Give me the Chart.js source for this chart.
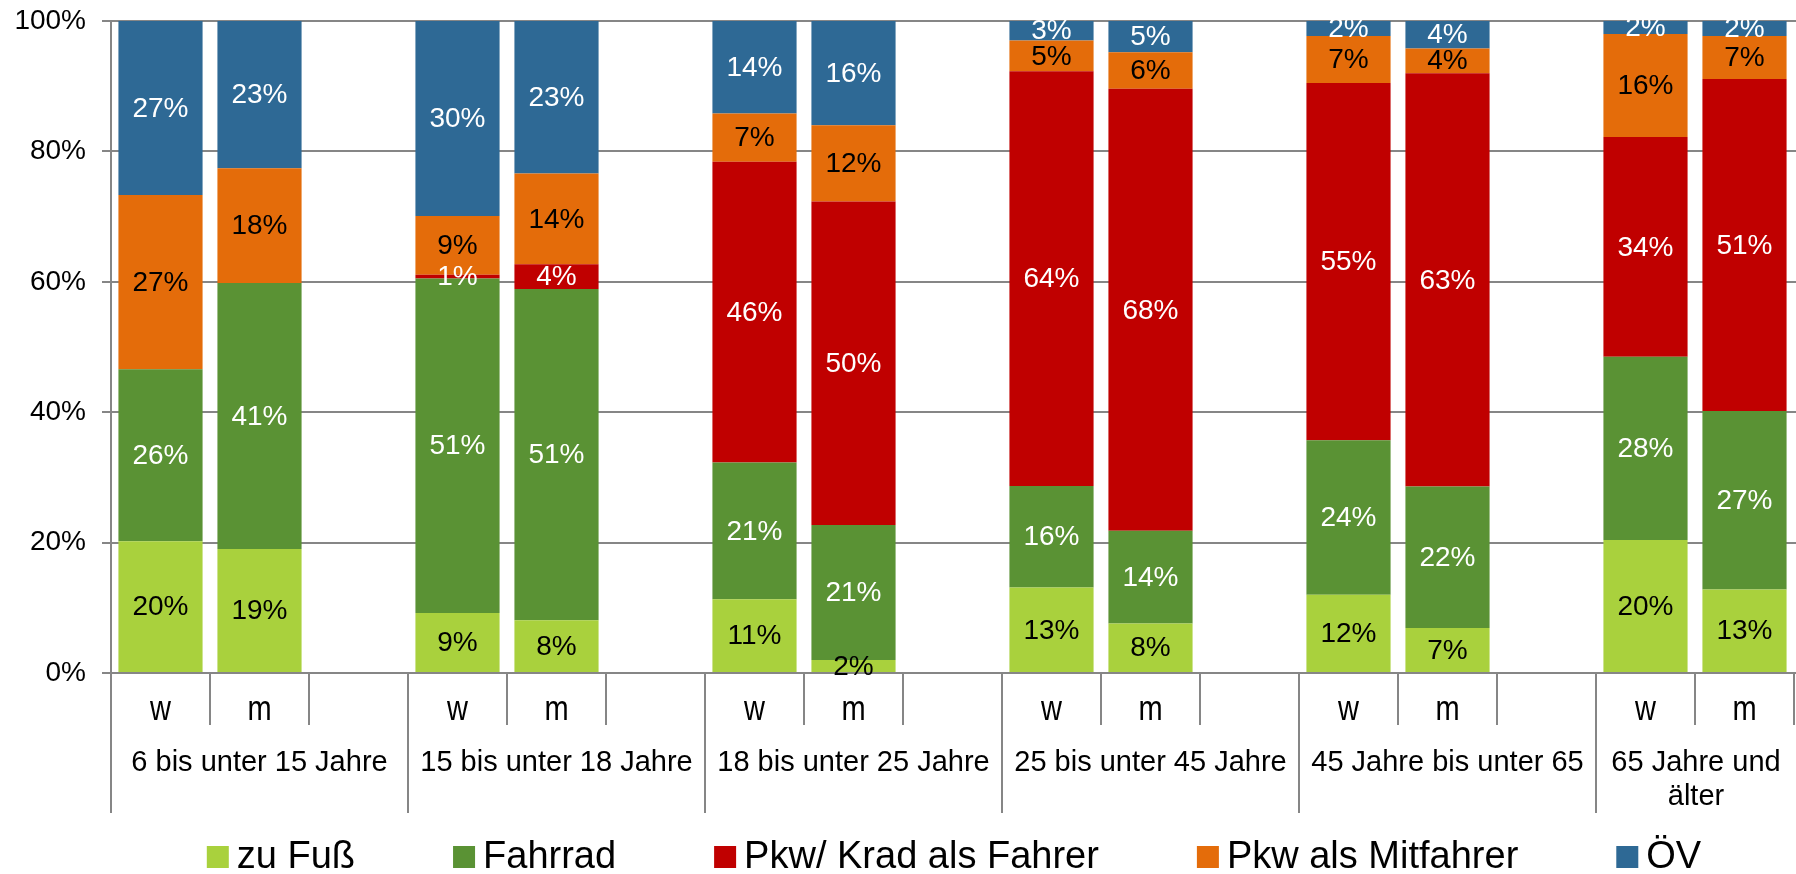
<!DOCTYPE html>
<html>
<head>
<meta charset="utf-8">
<script src="https://cdn.jsdelivr.net/npm/chart.js@4/dist/chart.umd.min.js"></script>
<style>
  html, body { margin: 0; padding: 0; background: #fff; overflow: hidden; }
  canvas { display: block; }
</style>
</head>
<body>
<canvas id="modalChart" width="1908" height="874"></canvas>
<script>
// Kategorien: je Altersgruppe w, m und eine leere Lücke
const genders = ["w", "m", "", "w", "m", "", "w", "m", "", "w", "m", "", "w", "m", "", "w", "m", ""];
const groupLabels = [
  "6 bis unter 15 Jahre",
  "15 bis unter 18 Jahre",
  "18 bis unter 25 Jahre",
  "25 bis unter 45 Jahre",
  "45 Jahre bis unter 65",
  ["65 Jahre und", "älter"],
];

// Anteile in %
const zuFuss    = [20.2, 19.0, null, 9.2, 8.1, null, 11.3, 2.0, null, 13.1, 7.6, null, 12.0, 6.9, null, 20.4, 12.8, null];
const fahrrad   = [26.4, 40.8, null, 51.3, 50.8, null, 21.0, 20.7, null, 15.6, 14.2, null, 23.7, 21.7, null, 28.1, 27.4, null];
const pkwFahrer = [0, 0, null, 0.6, 3.8, null, 46.1, 49.6, null, 63.6, 67.8, null, 54.8, 63.4, null, 33.7, 50.9, null];
const mitfahrer = [26.7, 17.6, null, 9.0, 13.9, null, 7.4, 11.7, null, 4.7, 5.6, null, 7.2, 3.8, null, 15.8, 6.6, null];
const oev       = [26.7, 22.6, null, 29.9, 23.4, null, 14.2, 16.0, null, 3.0, 4.8, null, 2.3, 4.2, null, 2.0, 2.3, null];

const yTicks = [0, 20, 40, 60, 80, 100];

const FONT = '"Liberation Sans", Arial, sans-serif';
const gridColor = "#868686";

// Beschriftungen in den Balken
const barLabels = {
  id: "barLabels",
  afterDatasetsDraw(chart) {
    const ctx = chart.ctx;
    ctx.save();
    ctx.font = "28px " + FONT;
    ctx.textAlign = "center";
    ctx.textBaseline = "middle";
    chart.data.datasets.forEach((ds, di) => {
      const meta = chart.getDatasetMeta(di);
      meta.data.forEach((bar, i) => {
        const v = ds.data[i];
        if (!v) return;
        ctx.fillStyle = ds.labelColor;
        ctx.fillText(Math.round(v) + "%", bar.x, (bar.y + bar.base) / 2 + 1);
      });
    });
    ctx.restore();
  },
};

// x-Achse mit zwei Ebenen und eigene Legende
const axisAndLegend = {
  id: "axisAndLegend",
  afterDraw(chart) {
    const ctx = chart.ctx;
    const x = chart.scales.x;
    const bottom = chart.chartArea.bottom;
    const visibleRight = window.innerWidth;
    ctx.save();

    // Trennlinien
    ctx.strokeStyle = gridColor;
    ctx.lineWidth = 2;
    for (let i = 0; i <= genders.length; i++) {
      const px = Math.round(x.getPixelForValue(i - 0.5));
      const len = i % 3 === 0 ? 140 : 52;
      ctx.beginPath();
      ctx.moveTo(px, bottom);
      ctx.lineTo(px, bottom + len);
      ctx.stroke();
    }

    // w / m
    ctx.fillStyle = "#000";
    ctx.textAlign = "center";
    ctx.textBaseline = "middle";
    ctx.font = "29px " + FONT;
    genders.forEach((g, i) => {
      if (!g) return;
      ctx.save();
      ctx.translate(x.getPixelForValue(i), bottom + 37);
      ctx.scale(1, 1.2);
      ctx.fillText(g, 0, 0);
      ctx.restore();
    });

    // Altersgruppen
    ctx.font = "29px " + FONT;
    groupLabels.forEach((label, g) => {
      const left = x.getPixelForValue(g * 3 - 0.5);
      const right = Math.min(x.getPixelForValue(g * 3 + 2.5), visibleRight);
      const cx = (left + right) / 2;
      const lines = Array.isArray(label) ? label : [label];
      lines.forEach((line, k) => {
        ctx.fillText(line, cx, bottom + 90 + k * 34);
      });
    });

    // Legende
    ctx.font = "38px " + FONT;
    ctx.textAlign = "left";
    const box = 22, gapText = 8, gapItem = 98;
    const items = chart.data.datasets.map((ds) => ({
      text: ds.label,
      color: ds.backgroundColor,
      w: box + gapText + ctx.measureText(ds.label).width,
    }));
    const total = items.reduce((s, it) => s + it.w, 0) + gapItem * (items.length - 1);
    let lx = chart.width / 2 - total / 2;
    const ly = 857;
    items.forEach((it) => {
      ctx.fillStyle = it.color;
      ctx.fillRect(lx, ly - box / 2, box, box);
      ctx.fillStyle = "#000";
      ctx.fillText(it.text, lx + box + gapText, ly + 1);
      lx += it.w + gapItem;
    });

    ctx.restore();
  },
};

function makeSet(label, data, color, labelColor) {
  return {
    label: label,
    data: data,
    backgroundColor: color,
    borderWidth: 0,
    labelColor: labelColor,
    categoryPercentage: 1.0,
    barPercentage: 0.85,
  };
}

new Chart(document.getElementById("modalChart").getContext("2d"), {
  type: "bar",
  data: {
    labels: genders,
    datasets: [
      makeSet("zu Fuß", zuFuss, "#A9D13D", "#000"),
      makeSet("Fahrrad", fahrrad, "#5A9234", "#fff"),
      makeSet("Pkw/ Krad als Fahrer", pkwFahrer, "#C00000", "#fff"),
      makeSet("Pkw als Mitfahrer", mitfahrer, "#E46C0A", "#000"),
      makeSet("ÖV", oev, "#2E6995", "#fff"),
    ],
  },
  options: {
    responsive: false,
    animation: false,
    layout: { padding: { top: 21, right: 15, bottom: 0, left: 0 } },
    plugins: {
      legend: { display: false },
      tooltip: { enabled: false },
    },
    scales: {
      x: {
        stacked: true,
        grid: { display: false },
        border: { display: false },
        ticks: { display: false },
        afterFit(scale) { scale.height = 201; },
      },
      y: {
        stacked: true,
        min: 0,
        max: 100,
        afterBuildTicks(scale) { scale.ticks = yTicks.map((v) => ({ value: v })); },
        afterFit(scale) {
          scale.width = 111;
          scale.paddingTop = 0;
          scale.paddingBottom = 0;
        },
        grid: { color: gridColor, lineWidth: 2, tickLength: 9, drawTicks: true },
        border: { display: true, color: gridColor, width: 2 },
        ticks: {
          padding: 16,
          color: "#000",
          font: { family: FONT, size: 28 },
          callback: (v) => v + "%",
        },
      },
    },
  },
  plugins: [barLabels, axisAndLegend],
});
</script>
</body>
</html>
